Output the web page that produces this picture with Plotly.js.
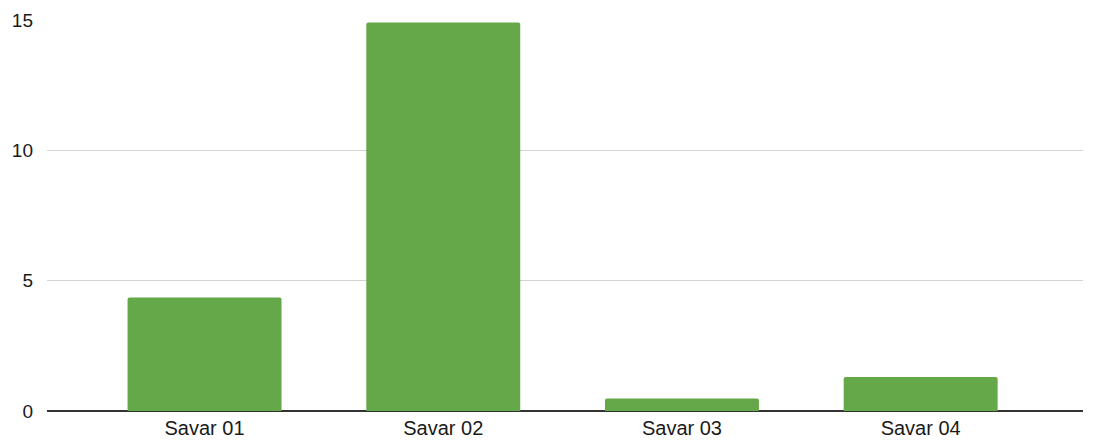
<!DOCTYPE html>
<html>
<head>
<meta charset="utf-8">
<script src="https://cdn.plot.ly/plotly-3.0.1.min.js"></script>
<style>
  html, body { margin: 0; padding: 0; background: #ffffff; }
  #chart { width: 1096px; height: 443px; }
</style>
</head>
<body>
<div id="chart"></div>
<script>
// Sites and their measured values
const sites = ["Savar 01", "Savar 02", "Savar 03", "Savar 04"];
const values = [4.35, 14.9, 0.48, 1.3];
const yTicks = [0, 5, 10, 15];

const trace = {
  type: "bar",
  x: sites,
  y: values,
  width: 0.645,
  marker: { color: "#64a84a", cornerradius: 2, line: { width: 0 } },
  hoverinfo: "x+y"
};

const layout = {
  width: 1096,
  height: 443,
  margin: { l: 47, r: 13, t: 20, b: 32, pad: 0 },
  paper_bgcolor: "#ffffff",
  plot_bgcolor: "#ffffff",
  showlegend: false,
  font: { family: "Liberation Sans, Arial, sans-serif", size: 19, color: "#1a1a1a" },
  xaxis: {
    type: "category",
    range: [-0.66, 3.68],
    showgrid: false,
    zeroline: false,
    showline: false,
    ticks: "",
    ticklabelstandoff: 3,
    tickfont: { size: 20, color: "#1a1a1a" },
    fixedrange: true
  },
  yaxis: {
    range: [0, 15],
    tickvals: yTicks,
    ticktext: yTicks.map(String),
    showgrid: true,
    gridcolor: "#d4d4d4",
    gridwidth: 1,
    zeroline: true,
    zerolinecolor: "#333333",
    zerolinewidth: 1.5,
    showline: false,
    ticks: "",
    ticklabelstandoff: 13,
    tickfont: { size: 19, color: "#1a1a1a" },
    fixedrange: true
  },
  bargap: 0.35
};

Plotly.newPlot("chart", [trace], layout, { displayModeBar: false, staticPlot: true });
</script>
</body>
</html>
